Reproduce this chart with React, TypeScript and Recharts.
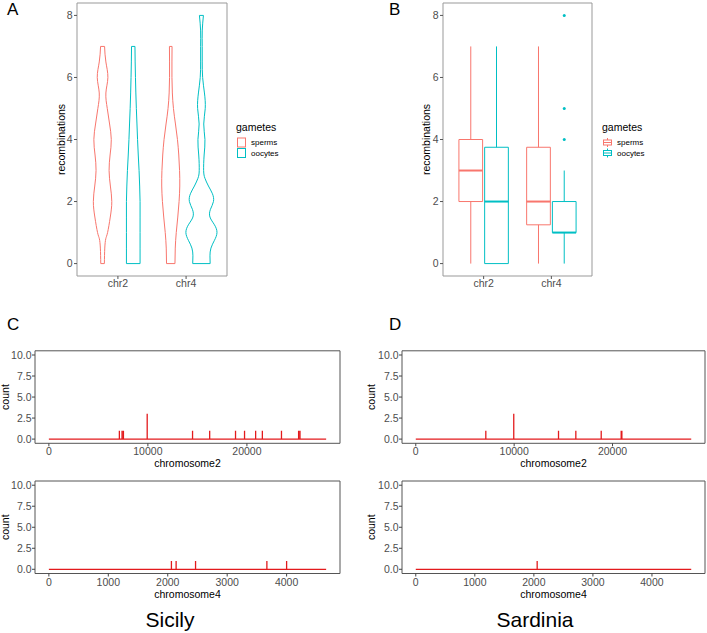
import React from "react";
import {
  ComposedChart,
  Scatter,
  XAxis,
  YAxis,
  ReferenceArea,
  ReferenceLine,
  Label,
} from "recharts";

const FONT = '"Liberation Sans", Arial, Helvetica, sans-serif';
const TICK_GREY = "#4d4d4d";
const SPIKE_RED = "#e31a1c";

const categories = ["chr2", "chr4"];
const gameteNames = ["sperms", "oocytes"];
const gameteColors = ["#F8766D", "#00BFC4"];

// violin outlines: recombination level and half width (density, px-ish)
const chr2SpermLevels = [0, 0.5, 0.8, 1, 1.5, 2, 2.5, 3, 3.5, 4, 4.5, 5, 5.5, 6, 6.5, 7];
const chr2SpermWidths = [1.8, 2.2, 3.2, 5, 7.7, 9.2, 7.8, 6.5, 7.5, 8.7, 7, 4.7, 3.3, 5.3, 3.3, 2];
const chr2OocyteLevels = [0, 0.5, 1, 1.5, 2, 2.5, 3, 3.5, 4, 4.5, 5, 5.5, 6, 6.5, 7];
const chr2OocyteWidths = [6.8, 6.8, 6.8, 6.8, 6.8, 6.4, 5.8, 5, 4.3, 3.7, 3.1, 2.6, 2.2, 1.9, 1.7];
const chr4SpermLevels = [0, 0.5, 1, 1.5, 2, 2.5, 3, 3.5, 4, 4.5, 5, 5.5, 6, 6.5, 7];
const chr4SpermWidths = [4.2, 4.5, 5.5, 7, 8.3, 9, 8.8, 8, 6.7, 4.7, 2.7, 1.6, 1.2, 1.2, 1.3];
const chr4OocyteLevels = [0, 0.25, 0.5, 0.75, 1, 1.25, 1.5, 1.75, 2, 2.25, 2.5, 2.75, 3, 3.5, 4, 4.5, 5, 5.5, 6, 6.5, 7, 7.5, 8];
const chr4OocyteWidths = [8.7, 8.5, 9.5, 13, 15.5, 13, 8.5, 9, 12, 11, 7, 3.5, 2.2, 2.7, 3.5, 2.3, 3.8, 3, 1.2, 0.8, 0.8, 0.8, 2];

// boxplot stats per category (chr2, chr4)
const spermMin = [0, 0];
const spermQ1 = [2, 1.25];
const spermMedian = [3, 2];
const spermQ3 = [4, 3.75];
const spermMax = [7, 7];
const oocyteMin = [0, 0];
const oocyteQ1 = [0, 1];
const oocyteMedian = [2, 1];
const oocyteQ3 = [3.75, 2];
const oocyteMax = [7, 3];
const outlierCategory = ["chr4", "chr4", "chr4"];
const outlierValue = [4, 5, 8];

// recombination spikes along chromosomes
const chr2Length = 28000;
const chr4Length = 4665;
const chr2Ticks = [0, 10000, 20000];
const chr4Ticks = [0, 1000, 2000, 3000, 4000];
const countTicks = [0, 2.5, 5, 7.5, 10];
const sicilyChr2Pos = [7120, 7390, 7530, 9930, 14510, 16240, 18850, 19760, 20880, 21560, 23490, 25220, 25360];
const sicilyChr2Count = [1, 1, 1, 3, 1, 1, 1, 1, 1, 1, 1, 1, 1];
const sicilyChr4Pos = [2062, 2141, 2468, 3668, 4000];
const sicilyChr4Count = [1, 1, 1, 1, 1];
const sardiniaChr2Pos = [7120, 9960, 14510, 16270, 18850, 20880, 20950];
const sardiniaChr2Count = [1, 3, 1, 1, 1, 1, 1];
const sardiniaChr4Pos = [2056];
const sardiniaChr4Count = [1];

const DODGE = 0.225;
const WIDTH_SCALE = 1 / 68;
const BOX_DODGE = 0.19;
const BOX_HALF = 0.175;

const noShape = () => <g />;

function outline(key: string, data: any[], color: string, curve: string) {
  return (
    <Scatter
      key={key}
      data={data}
      line={{ stroke: color, strokeWidth: 1 }}
      lineType="joint"
      lineJointType={curve as any}
      shape={noShape}
      legendType="none"
      isAnimationActive={false}
    />
  );
}

function violin(key: string, center: number, levels: number[], widths: number[], color: string) {
  const right = levels.map((y, i) => ({ x: center + widths[i] * WIDTH_SCALE, y }));
  const left = levels.map((y, i) => ({ x: center - widths[i] * WIDTH_SCALE, y }));
  const n = levels.length - 1;
  return [
    outline(key + "r", right, color, "natural"),
    outline(key + "l", left, color, "natural"),
    outline(key + "b", [left[0], right[0]], color, "linear"),
    outline(key + "t", [left[n], right[n]], color, "linear"),
  ];
}

function boxplot(key: string, center: number, min: number, q1: number, med: number, q3: number, max: number, color: string) {
  const x1 = center - BOX_HALF;
  const x2 = center + BOX_HALF;
  const out = [
    <ReferenceArea key={key + "box"} x1={x1} x2={x2} y1={q1} y2={q3} fill="#fff" fillOpacity={1} stroke={color} strokeWidth={1} />,
    <ReferenceLine key={key + "med"} segment={[{ x: x1, y: med }, { x: x2, y: med }]} stroke={color} strokeWidth={2} />,
    <ReferenceLine key={key + "up"} segment={[{ x: center, y: q3 }, { x: center, y: max }]} stroke={color} strokeWidth={1} />,
  ];
  if (q1 > min) {
    out.push(
      <ReferenceLine key={key + "lo"} segment={[{ x: center, y: min }, { x: center, y: q1 }]} stroke={color} strokeWidth={1} />
    );
  }
  return out;
}

function spikeTrace(length: number, positions: number[], counts: number[]) {
  const pts = [{ x: 0, y: 0 }];
  positions.forEach((p, i) => {
    pts.push({ x: p, y: 0 }, { x: p, y: counts[i] }, { x: p, y: 0 });
  });
  pts.push({ x: length, y: 0 });
  return pts;
}

const tickStyle = { fontSize: 10.5, fill: TICK_GREY };

function GameteChart({ left, width, yAxisWidth, rightMargin, yLabelOffset, children }: any) {
  return (
    <div style={{ position: "absolute", left, top: 0 }}>
      <ComposedChart width={width} height={300} margin={{ top: 3, right: rightMargin, bottom: 0, left: 0 }}>
        <XAxis
          type="number"
          dataKey="x"
          domain={[0.4, 2.6]}
          ticks={[1, 2]}
          interval={0}
          allowDataOverflow
          tickFormatter={(v) => categories[v - 1]}
          height={24}
          axisLine={false}
          tickSize={3}
          tickMargin={1}
          tickLine={{ stroke: "#555" }}
          tick={tickStyle}
        />
        <YAxis
          type="number"
          dataKey="y"
          domain={[-0.4, 8.4]}
          ticks={[0, 2, 4, 6, 8]}
          interval={0}
          allowDataOverflow
          width={yAxisWidth}
          axisLine={false}
          tickSize={3}
          tickMargin={1.3}
          tickLine={{ stroke: "#555" }}
          tick={tickStyle}
        >
          <Label
            value="recombinations"
            angle={-90}
            position="insideLeft"
            offset={yLabelOffset}
            style={{ textAnchor: "middle", fontSize: 10.5, fill: "#000" }}
          />
        </YAxis>
        <ReferenceArea x1={0.4} x2={2.6} y1={-0.4} y2={8.4} fill="none" stroke="#999" strokeWidth={1} />
        {children}
      </ComposedChart>
    </div>
  );
}

function ChromChart({ left, top, width, height, marginTop, rightMargin, yAxisWidth, length, ticks, positions, counts, title, titleOffset, tickMargin, yLabelOffset }: any) {
  const pad = length * 0.05;
  return (
    <div style={{ position: "absolute", left, top }}>
      <ComposedChart width={width} height={height} margin={{ top: marginTop, right: rightMargin, bottom: 0, left: 0 }}>
        <XAxis
          type="number"
          dataKey="x"
          domain={[-pad, length + pad]}
          ticks={ticks}
          interval={0}
          allowDataOverflow
          height={height - marginTop - 92.5}
          axisLine={false}
          tickSize={3}
          tickMargin={tickMargin}
          tickLine={{ stroke: "#444" }}
          tick={tickStyle}
        >
          <Label value={title} position="insideBottom" offset={titleOffset} style={{ fontSize: 10.5, fill: "#000" }} />
        </XAxis>
        <YAxis
          type="number"
          dataKey="y"
          domain={[-0.5, 10.5]}
          ticks={countTicks}
          interval={0}
          allowDataOverflow
          width={yAxisWidth}
          axisLine={false}
          tickSize={3}
          tickMargin={0.5}
          tickLine={{ stroke: "#444" }}
          tick={tickStyle}
          tickFormatter={(v) => v.toFixed(1)}
        >
          <Label
            value="count"
            angle={-90}
            position="insideLeft"
            offset={yLabelOffset}
            style={{ textAnchor: "middle", fontSize: 10.5, fill: "#000" }}
          />
        </YAxis>
        <ReferenceArea x1={-pad} x2={length + pad} y1={-0.5} y2={10.5} fill="none" stroke="#555" strokeWidth={1} />
        <Scatter
          data={spikeTrace(length, positions, counts)}
          line={{ stroke: SPIKE_RED, strokeWidth: 1.3 }}
          lineType="joint"
          shape={noShape}
          legendType="none"
          isAnimationActive={false}
        />
      </ComposedChart>
    </div>
  );
}

function LegendBlock({ x, box }: { x: number; box: boolean }) {
  return (
    <g>
      <text x={x} y={131} fontSize={10.5} fill="#000">gametes</text>
      {gameteNames.map((name, i) => {
        const ky = 138 + i * 10.5;
        const color = gameteColors[i];
        return (
          <g key={name}>
            {box ? (
              <g stroke={color} strokeWidth={1} fill="#fff">
                <line x1={x + 5.5} x2={x + 5.5} y1={ky} y2={ky + 9} />
                <rect x={x + 1.5} y={ky + 2} width={8} height={5} />
                <line x1={x + 1.5} x2={x + 9.5} y1={ky + 4.5} y2={ky + 4.5} />
              </g>
            ) : (
              <rect x={x + 1.5} y={ky} width={8} height={9} fill="#fff" stroke={color} strokeWidth={1} />
            )}
            <text x={x + 15} y={ky + 7} fontSize={8} fill="#000">{name}</text>
          </g>
        );
      })}
    </g>
  );
}

export default function App() {
  return (
    <div style={{ position: "absolute", left: 0, top: 0, width: 707, height: 633, background: "#fff", fontFamily: FONT, overflow: "hidden" }}>
      <GameteChart left={0} width={350} yAxisWidth={77} rightMargin={123} yLabelOffset={61}>
        {violin("s2", 1 - DODGE, chr2SpermLevels, chr2SpermWidths, gameteColors[0])}
        {violin("o2", 1 + DODGE, chr2OocyteLevels, chr2OocyteWidths, gameteColors[1])}
        {violin("s4", 2 - DODGE, chr4SpermLevels, chr4SpermWidths, gameteColors[0])}
        {violin("o4", 2 + DODGE, chr4OocyteLevels, chr4OocyteWidths, gameteColors[1])}
      </GameteChart>

      <GameteChart left={350} width={357} yAxisWidth={93} rightMargin={115} yLabelOffset={76}>
        {categories.flatMap((c, i) => [
          ...boxplot("s" + c, i + 1 - BOX_DODGE, spermMin[i], spermQ1[i], spermMedian[i], spermQ3[i], spermMax[i], gameteColors[0]),
          ...boxplot("o" + c, i + 1 + BOX_DODGE, oocyteMin[i], oocyteQ1[i], oocyteMedian[i], oocyteQ3[i], oocyteMax[i], gameteColors[1]),
        ])}
        <Scatter
          data={outlierValue.map((y, i) => ({ x: categories.indexOf(outlierCategory[i]) + 1 + BOX_DODGE, y }))}
          shape={(p: any) => <circle cx={p.cx} cy={p.cy} r={1.5} fill={gameteColors[1]} />}
          legendType="none"
          isAnimationActive={false}
        />
      </GameteChart>

      <ChromChart left={0} top={340} width={350} height={130} marginTop={10.8} rightMargin={10} yAxisWidth={35}
        length={chr2Length} ticks={chr2Ticks} positions={sicilyChr2Pos} counts={sicilyChr2Count}
        title="chromosome2" titleOffset={3.5} tickMargin={1.5} yLabelOffset={5.5} />
      <ChromChart left={0} top={470} width={350} height={135} marginTop={11} rightMargin={10} yAxisWidth={35}
        length={chr4Length} ticks={chr4Ticks} positions={sicilyChr4Pos} counts={sicilyChr4Count}
        title="chromosome4" titleOffset={7} tickMargin={2.5} yLabelOffset={5.5} />
      <ChromChart left={350} top={340} width={357} height={130} marginTop={10.8} rightMargin={2} yAxisWidth={52}
        length={chr2Length} ticks={chr2Ticks} positions={sardiniaChr2Pos} counts={sardiniaChr2Count}
        title="chromosome2" titleOffset={3.5} tickMargin={1.5} yLabelOffset={21} />
      <ChromChart left={350} top={470} width={357} height={135} marginTop={11} rightMargin={2} yAxisWidth={52}
        length={chr4Length} ticks={chr4Ticks} positions={sardiniaChr4Pos} counts={sardiniaChr4Count}
        title="chromosome4" titleOffset={7} tickMargin={2.5} yLabelOffset={21} />

      <svg width={707} height={633} style={{ position: "absolute", left: 0, top: 0, pointerEvents: "none" }}>
        <g fontSize={17} fill="#000">
          <text x={7} y={15}>A</text>
          <text x={389} y={15}>B</text>
          <text x={7} y={330}>C</text>
          <text x={389} y={330}>D</text>
        </g>
        <LegendBlock x={236} box={false} />
        <LegendBlock x={602} box={true} />
        <g fontSize={21} fill="#000" textAnchor="middle">
          <text x={170} y={627}>Sicily</text>
          <text x={535} y={627}>Sardinia</text>
        </g>
      </svg>
    </div>
  );
}
